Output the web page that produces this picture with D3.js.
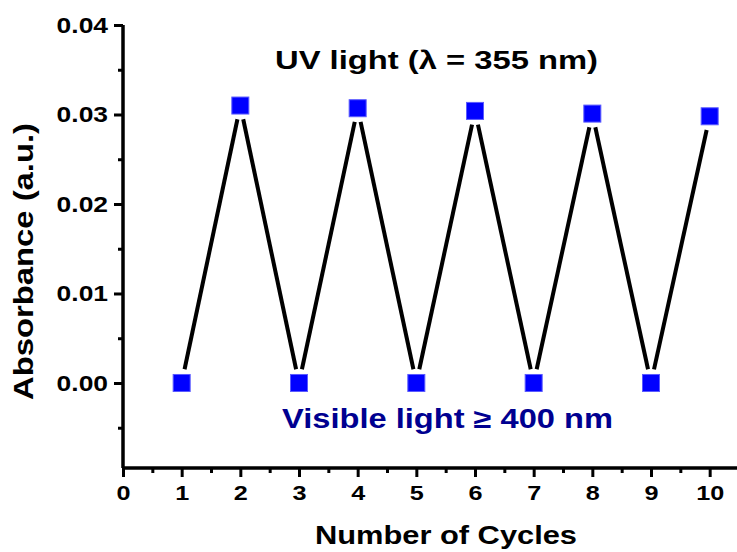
<!DOCTYPE html>
<html>
<head>
<meta charset="utf-8">
<script src="https://cdn.jsdelivr.net/npm/d3@7"></script>
<style>
  html, body { margin: 0; padding: 0; background: #fff; }
  svg { display: block; }
  text { font-family: "Liberation Sans", Arial, sans-serif; font-weight: bold; }
</style>
</head>
<body>
<svg id="chart" width="737" height="552"></svg>
<script>
// Photo-switching cycles: absorbance after alternating UV / visible irradiation
const cycles = [1, 2, 3, 4, 5, 6, 7, 8, 9, 10];
const absorbance = [0.0000, 0.0310, 0.0000, 0.0307, 0.0000, 0.0304, 0.0000, 0.0301, 0.0000, 0.0298];
const xTickValues = [0, 1, 2, 3, 4, 5, 6, 7, 8, 9, 10];
const yTickValues = [0.00, 0.01, 0.02, 0.03, 0.04];
const xMinorTicks = [0.5, 1.5, 2.5, 3.5, 4.5, 5.5, 6.5, 7.5, 8.5, 9.5, 10.5];
const yMinorTicks = [-0.005, 0.005, 0.015, 0.025, 0.035];
const uvLabel = "UV light (λ = 355 nm)";
const visLabel = "Visible light ≥ 400 nm";
const xTitle = "Number of Cycles";
const yTitle = "Absorbance (a.u.)";

const svg = d3.select("#chart");
const plotLeft = 123, plotRight = 739, plotTop = 25, plotBottom = 468;
const stretch = 1.2; // wide-set lettering used throughout the figure

const x = d3.scaleLinear().domain([0, 10.5]).range([plotLeft, plotRight]);
const y = d3.scaleLinear().domain([-0.0095, 0.04]).range([plotBottom, plotTop]);

// Left axis: major ticks with labels, then minor ticks
const yAxis = svg.append("g").attr("transform", `translate(${plotLeft},0)`)
  .call(d3.axisLeft(y).tickValues(yTickValues).tickFormat(d3.format(".2f"))
    .tickSize(9).tickPadding(6));
svg.append("g").attr("transform", `translate(${plotLeft},0)`)
  .call(d3.axisLeft(y).tickValues(yMinorTicks).tickFormat("").tickSize(5))
  .select(".domain").remove();

// Bottom axis
const xAxis = svg.append("g").attr("transform", `translate(0,${plotBottom})`)
  .call(d3.axisBottom(x).tickValues(xTickValues).tickFormat(d3.format("d"))
    .tickSize(9).tickPadding(8));
svg.append("g").attr("transform", `translate(0,${plotBottom})`)
  .call(d3.axisBottom(x).tickValues(xMinorTicks).tickFormat("").tickSize(5))
  .select(".domain").remove();

svg.selectAll(".domain").attr("stroke", "#000").attr("stroke-width", 3.5);
svg.selectAll(".tick line").attr("stroke", "#000").attr("stroke-width", 3);
yAxis.selectAll(".tick text").style("font-size", "22px");
xAxis.selectAll(".tick text").style("font-size", "21px");
svg.selectAll(".tick text").attr("fill", "#000")
  .style("font-family", "'Liberation Sans', Arial, sans-serif").style("font-weight", "bold")
  .each(function () {
    const len = this.getComputedTextLength();
    d3.select(this).attr("textLength", len * stretch).attr("lengthAdjust", "spacingAndGlyphs");
  });
// Axis lines without the outer end caps
yAxis.select(".domain").attr("d", `M0,${plotTop}V${plotBottom}`);
xAxis.select(".domain").attr("d", `M${plotLeft},0H${plotRight}`);

// Connecting line, drawn as segments that stop short of each marker
const pts = cycles.map((c, i) => [x(c), y(absorbance[i])]);
const gap = 14;
const segs = d3.pairs(pts).map(([a, b]) => {
  const dx = b[0] - a[0], dy = b[1] - a[1];
  const len = Math.hypot(dx, dy);
  const ux = dx / len, uy = dy / len;
  return [a[0] + ux * gap, a[1] + uy * gap, b[0] - ux * gap, b[1] - uy * gap];
});
svg.append("g").selectAll("line").data(segs).join("line")
  .attr("x1", d => d[0]).attr("y1", d => d[1])
  .attr("x2", d => d[2]).attr("y2", d => d[3])
  .attr("stroke", "#000").attr("stroke-width", 4);

// Square markers
const size = 17;
svg.append("g").selectAll("rect").data(cycles).join("rect")
  .attr("x", (c) => x(c) - size / 2)
  .attr("y", (c, i) => y(absorbance[i]) - size / 2)
  .attr("width", size).attr("height", size)
  .attr("fill", "#0000ff").attr("stroke", "#5a5aff").attr("stroke-width", 1);

// Wide-set text helper
function label(sel, txt, size, fill, width) {
  return sel.append("text").attr("text-anchor", "middle")
    .style("font-size", size + "px").attr("fill", fill)
    .attr("textLength", width).attr("lengthAdjust", "spacingAndGlyphs").text(txt);
}

// Annotations
label(svg, uvLabel, 26, "#000", 323).attr("x", 436.5).attr("y", 69);
label(svg, visLabel, 27, "#000090", 331).attr("x", 447.5).attr("y", 428);

// Axis titles
label(svg, xTitle, 26, "#000", 262).attr("x", 446).attr("y", 544);
label(svg, yTitle, 28, "#000", 277).attr("transform", "translate(33,261.5) rotate(-90)");
</script>
</body>
</html>
